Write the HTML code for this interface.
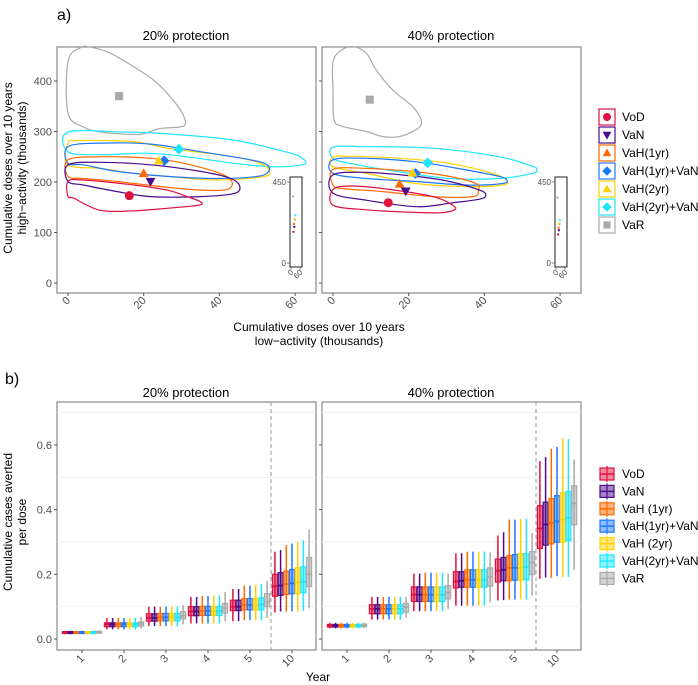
<!DOCTYPE html>
<html><head><meta charset="utf-8">
<style>
html,body{margin:0;padding:0;background:#fff;}
svg{display:block;font-family:"Liberation Sans",Arial,sans-serif;}
</style></head>
<body>
<svg id="chart" width="698" height="685" viewBox="0 0 698 685" xmlns="http://www.w3.org/2000/svg">
<text x="57" y="20" font-size="16" fill="#000">a)</text>
<text x="5" y="384" font-size="16" fill="#000">b)</text>
<text x="186" y="40" font-size="13" text-anchor="middle">20% protection</text>
<text x="451" y="40" font-size="13" text-anchor="middle">40% protection</text>
<text x="186" y="397" font-size="13" text-anchor="middle">20% protection</text>
<text x="451" y="397" font-size="13" text-anchor="middle">40% protection</text>
<g font-size="12">
<text transform="translate(12,168) rotate(-90)" text-anchor="middle">Cumulative doses over 10 years</text>
<text transform="translate(26,168) rotate(-90)" text-anchor="middle">high−activity (thousands)</text>
</g>
<g font-size="12">
<text x="319" y="331" text-anchor="middle">Cumulative doses over 10 years</text>
<text x="319" y="345" text-anchor="middle">low−activity (thousands)</text>
</g>
<g font-size="12">
<text transform="translate(12,522) rotate(-90)" text-anchor="middle">Cumulative cases averted</text>
<text transform="translate(26,522) rotate(-90)" text-anchor="middle">per dose</text>
</g>
<text x="318" y="681" font-size="12" text-anchor="middle">Year</text>
</svg>
<script>
// ---------- data ----------
const seriesNames = ["VoD","VaN","VaH(1yr)","VaH(1yr)+VaN","VaH(2yr)","VaH(2yr)+VaN","VaR"];
const seriesNamesB = ["VoD","VaN","VaH (1yr)","VaH(1yr)+VaN","VaH (2yr)","VaH(2yr)+VaN","VaR"];
const seriesColors = ["#e0103f","#4b0a8c","#ff6a00","#1e78ff","#ffd000","#1ee6ff","#aaaaaa"];
const markerShapes = ["circle","down","up","diamond","up","diamond","square"];
const panels = ["20% protection","40% protection"];
const xTicksA = [0,20,40,60];
const yTicksA = [0,100,200,300,400];
// marker means [x,y] per series, per panel
const means20 = [[16.2,173],[21.8,201],[20,217],[25.4,242],[24,242],[29.3,265],[13.5,370]];
const means40 = [[14.6,159],[19.2,182],[17.6,196],[21.8,217],[21,218],[25,238],[9.7,363]];
// contours [x,y] per series
const contours20 = [
 [[0,201],[4.1,204],[17.4,194],[26.2,184],[31.5,171],[35,161],[34.5,154],[26.2,148],[17.4,143],[8.5,144],[1.5,168],[0,171]],
 [[0,234],[8.5,239],[21.8,234],[35,221],[43,207],[45.4,191],[43.8,177],[35,171],[21.8,171],[13,181],[4.1,194],[0,201]],
 [[0,244],[8.5,250],[21.8,247],[30.6,237],[40.2,217],[43.3,201],[42,185],[35,184],[24.4,191],[13,201],[4.1,207],[0,211]],
 [[0,270],[8.5,277],[21.8,275],[35,260],[48.2,244],[52.6,234],[53,221],[50,211],[39.4,207],[26.2,211],[13,221],[4.1,234],[0,237]],
 [[0,277],[3.3,282],[17.4,280],[26.2,267],[43.8,250],[50.8,237],[53,224],[51.8,211],[39.4,204],[26.2,211],[17.4,217],[8.5,227],[0,234]],
 [[0,299],[14.4,299],[25,296],[43.8,283],[58.8,257],[61.9,247],[62.7,240],[61.9,234],[54.4,230],[43.8,237],[31.5,250],[20.9,257],[8.5,254],[0,260]],
 [[0,439],[3.3,466],[5.9,467],[11.2,455],[17.4,428],[22.6,402],[27,369],[30.2,336],[31,316],[29.7,309],[24.4,306],[20.1,296],[17.5,294],[8.7,299],[4.1,309],[0,336]]
];
const contours40 = [
 [[0,185],[4.4,192],[13.2,187],[26.4,171],[31.6,154],[32.1,145],[28.1,139],[17.6,141],[8.8,145],[0,154]],
 [[0,214],[8.8,219],[22,211],[30.8,201],[38.7,184],[40.4,174],[38.7,166],[30.8,158],[22,151],[8.8,164],[0,178]],
 [[0,225],[8.8,227],[22,220],[30.8,211],[37.8,197],[38.4,184],[36.9,171],[26.4,171],[13.2,181],[2.6,187],[0,194]],
 [[0,244],[8.8,247],[22,240],[35.1,224],[43.9,211],[45.9,204],[44.8,197],[35.1,194],[22,201],[8.8,207],[0,217]],
 [[0,249],[4.4,251],[17.6,247],[30.8,237],[42.2,217],[45.9,204],[44.8,194],[35.1,191],[22,197],[8.8,217],[0,230]],
 [[0,269],[8.8,270],[26.4,267],[43.9,250],[52.7,231],[53.8,224],[52.7,217],[43.9,207],[30.8,207],[17.6,220],[4.4,237],[0,247]],
 [[0,438],[2.2,461],[5.3,468],[8.8,455],[11.4,422],[15.8,382],[21.1,349],[23.3,322],[22.4,306],[17.6,290],[13.2,290],[8.8,300],[2.6,310],[0.3,323],[0,380]]
];
// boxplot data: per series, per year
const years = ["1","2","3","4","5","10"];
const yTicksB = [0.0,0.2,0.4,0.6];
const med20 = [[.02,.045,.065,.085,.10,.163],[.02,.045,.065,.085,.10,.165],[.02,.045,.067,.087,.105,.17],[.02,.045,.067,.087,.105,.172],[.02,.045,.067,.087,.105,.175],[.02,.045,.067,.087,.107,.177],[.021,.047,.072,.095,.115,.20]];
const q1_20 = [[.017,.038,.055,.072,.088,.132],[.017,.038,.055,.072,.088,.135],[.017,.038,.056,.073,.09,.137],[.017,.038,.056,.073,.09,.14],[.017,.038,.056,.073,.09,.14],[.017,.038,.056,.073,.09,.143],[.018,.040,.062,.08,.10,.162]];
const q3_20 = [[.023,.05,.078,.10,.12,.20],[.023,.05,.078,.10,.12,.205],[.023,.05,.079,.101,.125,.21],[.023,.05,.079,.101,.125,.215],[.023,.05,.079,.101,.125,.22],[.023,.05,.079,.101,.127,.223],[.024,.053,.085,.11,.14,.252]];
const lo20 = [[.015,.03,.04,.048,.055,.082],[.015,.03,.04,.048,.055,.085],[.015,.03,.04,.048,.058,.085],[.015,.03,.04,.048,.058,.085],[.015,.03,.04,.048,.058,.085],[.015,.03,.04,.048,.058,.087],[.016,.032,.045,.055,.065,.095]];
const hi20 = [[.025,.065,.10,.13,.155,.27],[.025,.065,.10,.13,.155,.275],[.025,.065,.10,.133,.165,.29],[.025,.065,.10,.133,.165,.295],[.025,.065,.10,.135,.168,.30],[.025,.065,.10,.135,.17,.305],[.026,.068,.105,.145,.18,.338]];
const med40 = [[.041,.093,.137,.178,.211,.342],[.041,.093,.137,.180,.214,.354],[.041,.093,.137,.183,.22,.359],[.041,.093,.137,.183,.22,.364],[.041,.093,.137,.183,.22,.369],[.041,.093,.137,.183,.223,.374],[.042,.099,.144,.192,.237,.419]];
const q1_40 = [[.037,.078,.116,.158,.176,.28],[.037,.078,.116,.160,.18,.29],[.037,.078,.116,.16,.18,.294],[.037,.078,.116,.16,.182,.299],[.037,.078,.116,.16,.182,.299],[.037,.078,.116,.16,.183,.304],[.038,.083,.124,.163,.199,.353]];
const q3_40 = [[.045,.106,.161,.208,.247,.412],[.045,.106,.161,.208,.252,.423],[.045,.106,.161,.214,.258,.434],[.045,.106,.161,.214,.261,.443],[.045,.106,.161,.214,.264,.452],[.045,.106,.161,.214,.264,.456],[.046,.11,.165,.22,.27,.474]];
const lo40 = [[.033,.06,.086,.103,.119,.186],[.033,.06,.086,.103,.12,.19],[.033,.06,.086,.103,.122,.189],[.033,.06,.086,.103,.122,.194],[.033,.06,.086,.103,.123,.19],[.033,.06,.086,.103,.122,.192],[.034,.065,.093,.113,.134,.214]];
const hi40 = [[.05,.13,.202,.265,.32,.55],[.05,.13,.202,.265,.33,.562],[.05,.13,.205,.27,.369,.588],[.05,.13,.205,.27,.369,.594],[.05,.13,.205,.27,.372,.62],[.05,.13,.205,.27,.372,.618],[.051,.13,.202,.268,.328,.555]];

// ---------- helpers ----------
const NS = "http://www.w3.org/2000/svg";
const svg = document.getElementById("chart");
function mk(tag, attrs, parent){
  const e = document.createElementNS(NS, tag);
  for (const k in attrs) e.setAttribute(k, attrs[k]);
  (parent||svg).appendChild(e);
  return e;
}
function smoothPath(pts){
  const n = pts.length; let d = "M"+pts[0][0]+","+pts[0][1];
  for (let i=0;i<n;i++){
    const p0=pts[(i-1+n)%n], p1=pts[i], p2=pts[(i+1)%n], p3=pts[(i+2)%n];
    const c1=[p1[0]+(p2[0]-p0[0])/6, p1[1]+(p2[1]-p0[1])/6];
    const c2=[p2[0]-(p3[0]-p1[0])/6, p2[1]-(p3[1]-p1[1])/6];
    d += " C"+c1[0].toFixed(1)+","+c1[1].toFixed(1)+" "+c2[0].toFixed(1)+","+c2[1].toFixed(1)+" "+p2[0].toFixed(1)+","+p2[1].toFixed(1);
  }
  return d+"Z";
}
function marker(shape, cx, cy, r, color, parent){
  let e;
  if (shape==="circle") e = mk("circle",{cx:cx,cy:cy,r:r,fill:color},parent);
  else if (shape==="square") e = mk("rect",{x:cx-r*0.9,y:cy-r*0.9,width:r*1.8,height:r*1.8,fill:color},parent);
  else if (shape==="up") e = mk("polygon",{points:`${cx},${cy-r*1.15} ${cx+r*1.1},${cy+r*0.8} ${cx-r*1.1},${cy+r*0.8}`,fill:color},parent);
  else if (shape==="down") e = mk("polygon",{points:`${cx},${cy+r*1.15} ${cx+r*1.1},${cy-r*0.8} ${cx-r*1.1},${cy-r*0.8}`,fill:color},parent);
  else e = mk("polygon",{points:`${cx},${cy-r*1.2} ${cx+r*1.2},${cy} ${cx},${cy+r*1.2} ${cx-r*1.2},${cy}`,fill:color},parent);
  return e;
}

// ---------- panel a ----------
const panelLeft = [57, 322];
const panelW = 259;
const aTop = 47, aBot = 293;
function xA(p, v){ return panelLeft[p] + 11 + v*3.785; }
function yA(v){ return 283 - v*0.505; }
const allMeans = [means20, means40];
const allContours = [contours20, contours40];

for (let p=0;p<2;p++){
  const g = mk("g",{});
  
  
  const bg = mk("rect",{x:panelLeft[p],y:aTop,width:panelW,height:aBot-aTop,fill:"#fff",stroke:"#888","stroke-width":1.2},g);
  
  
  for (const t of yTicksA){
    const y=yA(t);
    mk("line",{x1:panelLeft[p]-3,x2:panelLeft[p],y1:y,y2:y,stroke:"#555"},g);
    if (p===0){
      const tl = mk("text",{x:panelLeft[p]-5,y:y+4,"font-size":11,fill:"#4d4d4d","text-anchor":"end"},g);
      tl.textContent = t;
      
      
    }
  }
  for (const t of xTicksA){
    const x=xA(p,t);
    mk("line",{x1:x,x2:x,y1:aBot,y2:aBot+3,stroke:"#555"},g);
    const tl = mk("text",{transform:`translate(${x+3},${aBot+8}) rotate(-45)`,"font-size":11,fill:"#4d4d4d","text-anchor":"end"},g);
    tl.textContent = t;
    
    
  }
  const cs = allContours[p];
  for (let s=cs.length-1;s>=0;s--){
    const pts = cs[s].map(q=>[xA(p,q[0]), yA(q[1])]);
    const c = mk("path",{d:smoothPath(pts),fill:"none",stroke:seriesColors[s],"stroke-width":1.2},g);
    
    
  }
  const ms = allMeans[p];
  for (let s=0;s<ms.length;s++){
    const m = marker(markerShapes[s], xA(p,ms[s][0]), yA(ms[s][1]), 4.5, seriesColors[s], g);
    
    
  }
  const ix0 = panelLeft[p]+233, iy0 = 177;
  const inset = mk("g",{},g);
  
  
  mk("rect",{x:ix0,y:iy0,width:12,height:90,fill:"#fff",stroke:"#222","stroke-width":1},inset);
  const ixs = v => ix0+1+v*0.15, iys = v => 263 - v*0.18;
  for (const t of [0,450]){
    mk("line",{x1:ix0-3,x2:ix0,y1:iys(t),y2:iys(t),stroke:"#555","stroke-width":0.7},inset);
    const tl = mk("text",{x:ix0-4,y:iys(t)+3,"font-size":8,fill:"#4d4d4d","text-anchor":"end"},inset);
    tl.textContent = t;
  }
  for (const t of [0,60]){
    mk("line",{x1:ixs(t),x2:ixs(t),y1:267,y2:270,stroke:"#555","stroke-width":0.7},inset);
    const tl = mk("text",{transform:`translate(${ixs(t)+3},${273}) rotate(-45)`,"font-size":8,fill:"#4d4d4d","text-anchor":"end"},inset);
    tl.textContent = t;
  }
  for (let s=0;s<ms.length;s++){
    const d = mk("rect",{x:ixs(ms[s][0])-1,y:iys(ms[s][1])-1,width:2,height:2,fill:seriesColors[s]},inset);
    
    
  }
}
const legA = mk("g",{});


for (let s=0;s<seriesNames.length;s++){
  const y = 117 + s*18;
  const e = mk("g",{},legA);
  
  
  mk("rect",{x:599,y:y-8,width:16,height:16,fill:"#fff",stroke:seriesColors[s],"stroke-width":1.2},e);
  marker(markerShapes[s],607,y,4,seriesColors[s],e);
  const t = mk("text",{x:622,y:y+4,"font-size":12},e);
  t.textContent = seriesNames[s];
}

// ---------- panel b ----------
const bTop = 402, bBot = 650;
function yB(v){ return 639 - v*323.5; }
function xB(p, yi){ return panelLeft[p] + 25 + yi*42; }
const allB = [[med20,q1_20,q3_20,lo20,hi20],[med40,q1_40,q3_40,lo40,hi40]];
for (let p=0;p<2;p++){
  const g = mk("g",{});
  
  
  const bg = mk("rect",{x:panelLeft[p],y:bTop,width:panelW,height:bBot-bTop,fill:"#fff",stroke:"#888","stroke-width":1.2},g);
  
  
  for (const gv of [0.1,0.3,0.5,0.7]){
    const gl = mk("line",{x1:panelLeft[p],x2:panelLeft[p]+panelW,y1:yB(gv),y2:yB(gv),stroke:"#ebebeb","stroke-width":0.8},g);
    
    
  }
  for (const t of yTicksB){
    const y=yB(t);
    mk("line",{x1:panelLeft[p]-3,x2:panelLeft[p],y1:y,y2:y,stroke:"#555"},g);
    if (p===0){
      const tl = mk("text",{x:panelLeft[p]-5,y:y+4,"font-size":11,fill:"#4d4d4d","text-anchor":"end"},g);
      tl.textContent = t.toFixed(1);
      
      
    }
  }
  for (let yi=0;yi<years.length;yi++){
    const x=xB(p,yi);
    mk("line",{x1:x,x2:x,y1:bBot,y2:bBot+3,stroke:"#555"},g);
    const tl = mk("text",{transform:`translate(${x+3},${bBot+9}) rotate(-45)`,"font-size":11,fill:"#4d4d4d","text-anchor":"end"},g);
    tl.textContent = years[yi];
    
    
  }
  const dl = mk("line",{x1:xB(p,4.5),x2:xB(p,4.5),y1:bTop,y2:bBot,stroke:"#999","stroke-dasharray":"4,3","stroke-width":1},g);
  
  
  const [med,q1,q3,lo,hi] = allB[p];
  for (let s=0;s<seriesNames.length;s++){
    for (let yi=0;yi<years.length;yi++){
      const cx = xB(p,yi) + (s-3)*5.7;
      const col = seriesColors[s];
      const bx = mk("g",{},g);
      
      
      mk("line",{x1:cx,x2:cx,y1:yB(hi[s][yi]),y2:yB(lo[s][yi]),stroke:col,"stroke-width":1.5},bx);
      const yt=yB(q3[s][yi]), yb=yB(q1[s][yi]);
      mk("rect",{x:cx-2.5,y:yt,width:5,height:Math.max(yb-yt,1),fill:col,"fill-opacity":0.5,stroke:col,"stroke-width":1.2},bx);
      mk("line",{x1:cx-2.5,x2:cx+2.5,y1:yB(med[s][yi]),y2:yB(med[s][yi]),stroke:col,"stroke-width":1.8},bx);
    }
  }
}
const legB = mk("g",{});


for (let s=0;s<seriesNamesB.length;s++){
  const y = 474 + s*17.4;
  const col = seriesColors[s];
  const e = mk("g",{},legB);
  
  
  mk("line",{x1:607,x2:607,y1:y-8,y2:y+8,stroke:col,"stroke-width":1.2},e);
  mk("rect",{x:600,y:y-6,width:14,height:12,fill:col,"fill-opacity":0.5,stroke:col,"stroke-width":1.2},e);
  mk("line",{x1:600,x2:614,y1:y,y2:y,stroke:col,"stroke-width":1.5},e);
  const t = mk("text",{x:622,y:y+4,"font-size":12},e);
  t.textContent = seriesNamesB[s];
}
</script>
</body></html>
